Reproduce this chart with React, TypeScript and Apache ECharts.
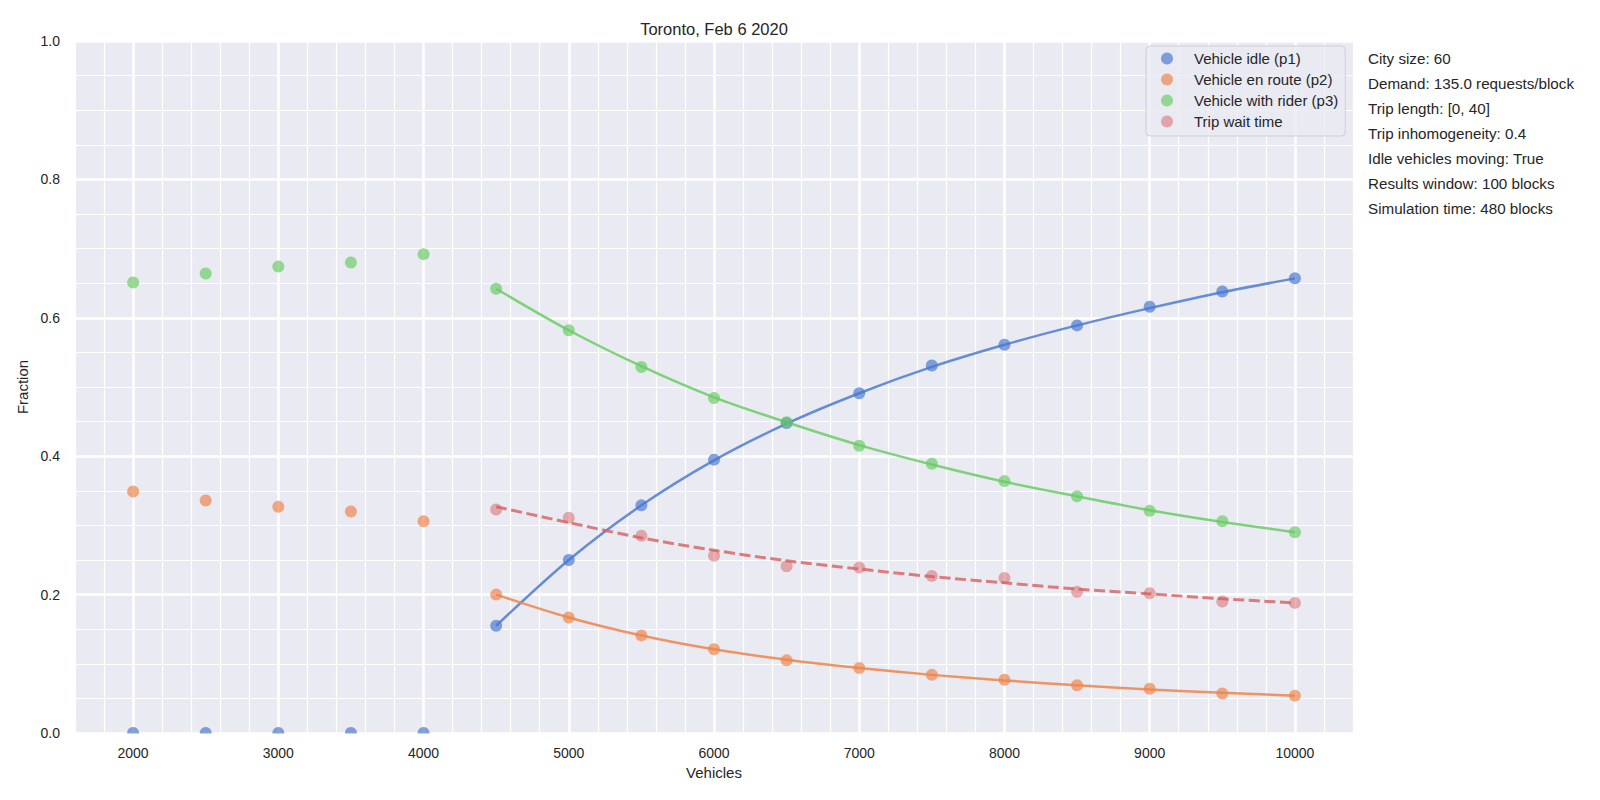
import React, { useEffect, useRef } from "react";
import * as echarts from "echarts";

// ---- data ----
const vehicles = [2000, 2500, 3000, 3500, 4000, 4500, 5000, 5500, 6000, 6500, 7000, 7500, 8000, 8500, 9000, 9500, 10000];
const idlePoints = [0, 0, 0, 0, 0, 0.155, 0.25, 0.329, 0.395, 0.448, 0.491, 0.531, 0.561, 0.589, 0.616, 0.638, 0.657];
const enroutePoints = [0.349, 0.336, 0.327, 0.32, 0.306, 0.2, 0.167, 0.141, 0.121, 0.105, 0.094, 0.084, 0.077, 0.069, 0.064, 0.057, 0.054];
const riderPoints = [0.651, 0.664, 0.674, 0.68, 0.692, 0.642, 0.582, 0.529, 0.484, 0.449, 0.415, 0.389, 0.364, 0.342, 0.321, 0.306, 0.29];
const waitPoints = [null, null, null, null, null, 0.323, 0.311, 0.285, 0.256, 0.241, 0.239, 0.227, 0.224, 0.204, 0.202, 0.19, 0.188];

const fitVehicles = [4500, 5000, 5500, 6000, 6500, 7000, 7500, 8000, 8500, 9000, 9500, 10000];
const idleFit = [0.155, 0.25, 0.329, 0.394, 0.447, 0.491, 0.529, 0.561, 0.589, 0.614, 0.637, 0.657];
const enrouteFit = [0.2, 0.167, 0.141, 0.121, 0.106, 0.094, 0.084, 0.076, 0.069, 0.063, 0.058, 0.054];
const riderFit = [0.642, 0.582, 0.53, 0.485, 0.449, 0.416, 0.388, 0.363, 0.342, 0.322, 0.305, 0.29];
const waitFit = [0.327, 0.304, 0.282, 0.264, 0.249, 0.237, 0.226, 0.217, 0.208, 0.201, 0.194, 0.188];

const majorXTicks = [2000, 3000, 4000, 5000, 6000, 7000, 8000, 9000, 10000];
const seriesNames = ["Vehicle idle (p1)", "Vehicle en route (p2)", "Vehicle with rider (p3)", "Trip wait time"];
const infoLines = [
  "City size: 60",
  "Demand: 135.0 requests/block",
  "Trip length: [0, 40]",
  "Trip inhomogeneity: 0.4",
  "Idle vehicles moving: True",
  "Results window: 100 blocks",
  "Simulation time: 480 blocks",
];
const titleText = "Toronto, Feb 6 2020";

// ---- styling ----
const FONT = "'Liberation Sans', Arial, sans-serif";
const TXT = "#262626";
const GRID = { left: 75, top: 41, width: 1278, height: 692 };
const dotColors = ["rgba(72,120,208,0.85)", "rgba(238,133,74,0.85)", "rgba(106,204,100,0.85)", "rgba(214,95,95,0.62)"];
const lineColors = ["rgba(72,120,208,0.82)", "rgba(238,133,74,0.85)", "rgba(106,204,100,0.85)", "rgba(214,95,95,0.8)"];

function pairs(xs: number[], ys: (number | null)[]) {
  const out: [number, number][] = [];
  xs.forEach((x, i) => {
    const y = ys[i];
    if (y !== null && y !== undefined) out.push([x, y]);
  });
  return out;
}

export default function App() {
  const ref = useRef<HTMLDivElement>(null);
  useEffect(() => {
    if (!ref.current) return;
    const chart = echarts.init(ref.current, undefined, { renderer: "svg" });
    const pointSets = [idlePoints, enroutePoints, riderPoints, waitPoints];
    const fitSets = [idleFit, enrouteFit, riderFit, waitFit];

    const series: any[] = [];
    fitSets.forEach((f, i) => {
      series.push({
        type: "line",
        name: seriesNames[i] + " fit",
        data: pairs(fitVehicles, f),
        showSymbol: false,
        smooth: 0.3,
        z: 2,
        silent: true,
        lineStyle: {
          color: lineColors[i],
          width: i === 3 ? 3 : 2.5,
          type: i === 3 ? [11, 4.5] : "solid",
        },
      });
    });
    pointSets.forEach((p, i) => {
      const s: any = {
        type: "scatter",
        name: seriesNames[i],
        data: pairs(vehicles, p),
        symbol: "circle",
        symbolSize: 12,
        z: 3,
        itemStyle: { color: dotColors[i] },
      };
      if (i === 0) {
        s.markLine = {
          silent: true,
          symbol: "none",
          z: 1,
          animation: false,
          label: { show: false },
          emphasis: { disabled: true },
          lineStyle: { color: "#ffffff", width: 2.5, type: "solid", opacity: 1 },
          data: majorXTicks.map((v) => ({ xAxis: v })),
        };
      }
      series.push(s);
    });

    chart.setOption({
      animation: false,
      backgroundColor: "#ffffff",
      textStyle: { fontFamily: FONT },
      title: {
        text: titleText,
        left: GRID.left + GRID.width / 2 - 5,
        textAlign: "center",
        top: 15,
        textStyle: { fontFamily: FONT, fontSize: 16.5, fontWeight: "normal", color: TXT },
      },
      grid: { ...GRID, show: true, backgroundColor: "#eaeaf2", borderWidth: 0 },
      xAxis: {
        type: "value",
        min: 1600,
        max: 10400,
        interval: 200,
        name: "Vehicles",
        nameLocation: "middle",
        nameGap: 31,
        nameTextStyle: { fontFamily: FONT, fontSize: 15, color: TXT },
        axisLine: { show: false },
        axisTick: { show: false },
        axisLabel: {
          fontFamily: FONT,
          fontSize: 14,
          color: TXT,
          margin: 13,
          formatter: (v: number) => (majorXTicks.indexOf(Math.round(v)) >= 0 ? String(Math.round(v)) : ""),
        },
        splitLine: { show: true, lineStyle: { color: "#ffffff", width: 1.2 } },
      },
      yAxis: {
        type: "value",
        min: 0,
        max: 1,
        interval: 0.2,
        name: "Fraction",
        nameLocation: "middle",
        nameGap: 42,
        nameTextStyle: { fontFamily: FONT, fontSize: 15, color: TXT },
        axisLine: { show: false },
        axisTick: { show: false },
        axisLabel: {
          fontFamily: FONT,
          fontSize: 14,
          color: TXT,
          margin: 15,
          formatter: (v: number) => v.toFixed(1),
        },
        splitLine: { show: true, lineStyle: { color: "#ffffff", width: 2.5 } },
        minorTick: { show: false, splitNumber: 4 },
        minorSplitLine: { show: true, lineStyle: { color: "#ffffff", width: 1.2 } },
      },
      legend: {
        orient: "vertical",
        left: 1146,
        top: 46,
        data: seriesNames,
        icon: "circle",
        itemWidth: 44,
        itemHeight: 12,
        itemGap: 6,
        padding: [5, 7, 7, 15],
        backgroundColor: "rgba(234,234,242,0.8)",
        borderColor: "#cfcfd6",
        borderWidth: 1,
        borderRadius: 4,
        selectedMode: false,
        textStyle: { fontFamily: FONT, fontSize: 15, lineHeight: 15, color: TXT },
      },
      graphic: [
        {
          type: "rect",
          z: 100,
          silent: true,
          shape: { x: GRID.left - 2, y: GRID.top + GRID.height + 0.5, width: GRID.width + 4, height: 8 },
          style: { fill: "#ffffff" },
        },
        ...infoLines.map((t, i) => ({
          type: "text",
          x: 1368,
          y: 58.5 + 25 * i,
          silent: true,
          style: {
            text: t,
            fill: TXT,
            fontFamily: FONT,
            fontSize: 15.2,
            align: "left",
            verticalAlign: "middle",
          },
        })),
      ],
      series,
    });
    return () => chart.dispose();
  }, []);
  return (
    <div
      ref={ref}
      style={{ position: "fixed", left: 0, top: 0, width: 1600, height: 800, background: "#fff" }}
    />
  );
}
